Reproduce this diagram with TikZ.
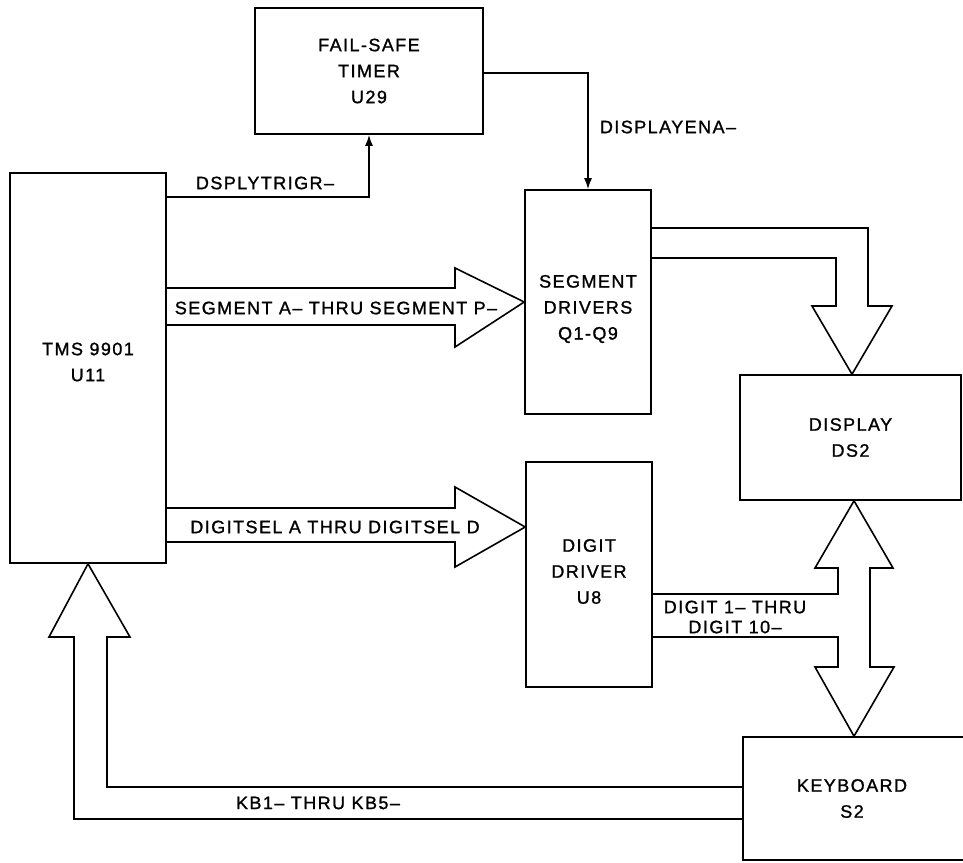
\documentclass[tikz,border=0pt]{standalone}
\usepackage{fontspec}
\setmainfont{Liberation Sans}[LetterSpace=8,FakeBold=1.2]
\usetikzlibrary{arrows.meta}
\newcommand\dfont{\fontsize{18}{26}\selectfont}
\begin{document}
\begin{tikzpicture}[x=1pt,y=-1pt,line width=1.6pt,
  box/.style={draw,rectangle,align=center,inner sep=0pt,font=\dfont},
  intext/.style={label={[align=center,font=\dfont,inner sep=0pt,#1]center:}},
  lab/.style={inner sep=0pt,align=center,font=\dfont},
  sig/.style={-{Latex[length=11pt,width=8pt]}},
  fat/.style={line join=miter}]
\useasboundingbox (0,0) rectangle (963,862);
% blocks
\node[box,minimum width=156pt,minimum height=390pt,
  label={[align=center,font=\dfont,inner sep=0pt,yshift=6pt]center:TMS 9901\\U11}] (tms) at (88,368) {};
\node[box,minimum width=228pt,minimum height=126pt] (timer) at (369,71) {FAIL-SAFE\\TIMER\\U29};
\node[box,minimum width=126pt,minimum height=224pt,
  label={[align=center,font=\dfont,inner sep=0pt,yshift=-7pt]center:SEGMENT\\DRIVERS\\Q1-Q9}] (seg) at (588,302) {};
\node[box,minimum width=126pt,minimum height=225pt,
  label={[align=center,font=\dfont,inner sep=0pt,yshift=3pt]center:DIGIT\\DRIVER\\U8}] (dig) at (589,574.5) {};
\node[box,minimum width=221pt,minimum height=125pt] (disp) at (850.5,437.5) {DISPLAY\\DS2};
\node[box,minimum width=230pt,minimum height=123pt] (kbd) at (858,798.5) {\hspace*{-12pt}KEYBOARD\\\hspace*{-12pt}S2};
% single-line signals
\draw[sig] (tms.east |- 0,197) -| (timer.south);
\node[lab] (ltrig) at (265,183) {DSPLYTRIGR--};
\draw[sig] (timer.east |- 0,73) -| (seg.north);
\node[lab] (lena) at (668,127) {DISPLAYENA--};
% segment bus
\draw[fat] (tms.east |- 0,288) -- (455,288) -- (455,268) -- (seg.west) -- (455,347) -- (455,325) -- (tms.east |- 0,325);
\node[lab] (lseg) at (336,308) {SEGMENT A-- THRU SEGMENT P--};
% digitsel bus
\draw[fat] (tms.east |- 0,508) -- (455,508) -- (455,487) -- (dig.west |- 0,527) -- (455,567) -- (455,542) -- (tms.east |- 0,542);
\node[lab] (lsel) at (335,527) {DIGITSEL A THRU DIGITSEL D};
% segment drivers to display
\draw[fat] (seg.east |- 0,228) -- (868,228) -- (868,306) -- (892,306) -- (disp.north -| 852,0) -- (812,306) -- (836,306) -- (836,258) -- (seg.east |- 0,258);
% digit bus, display <-> keyboard
\draw[fat] (dig.east |- 0,594) -- (838,594) -- (838,568) -- (815,568) -- (disp.south -| 854,0) -- (893,568) -- (870,568) -- (870,667) -- (894,667) -- (kbd.north -| 854,0) -- (815,667) -- (838,667) -- (838,637) -- (dig.east |- 0,637);
\node[lab,font=\fontsize{18}{20}\selectfont] (ldig) at (735,617) {DIGIT 1-- THRU\\DIGIT 10--};
% keyboard bus
\draw[fat] (kbd.west |- 0,787) -- (107,787) -- (107,637) -- (130,637) -- (tms.south) -- (49,637) -- (74,637) -- (74,819) -- (kbd.west |- 0,819);
\node[lab] (lkb) at (318,803) {KB1-- THRU KB5--};
\end{tikzpicture}
\end{document}
